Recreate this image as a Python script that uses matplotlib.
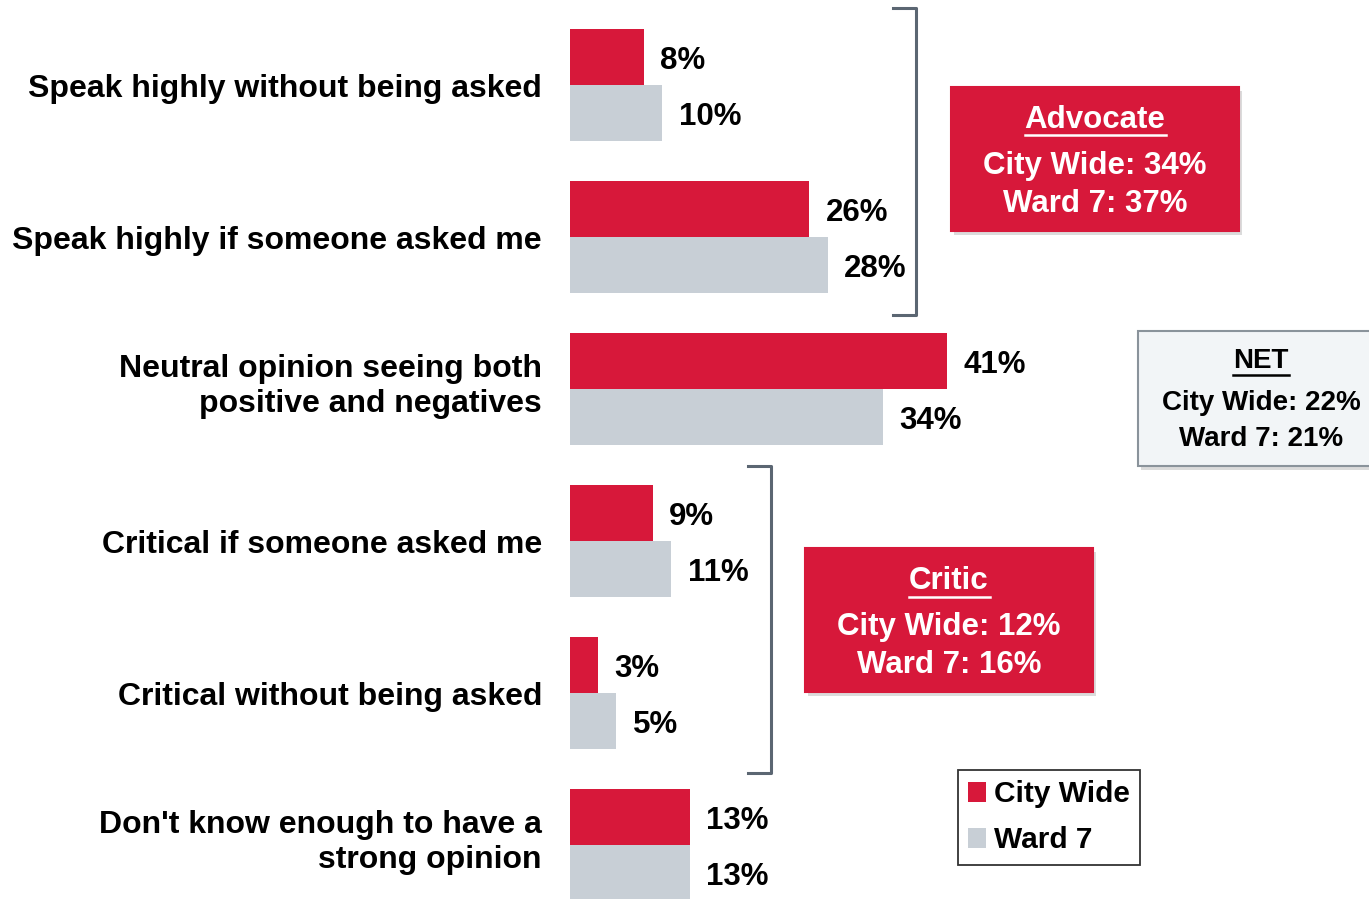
import matplotlib
matplotlib.use("Agg")
import matplotlib.pyplot as plt
import numpy as np
from matplotlib.patches import Rectangle, Patch
from matplotlib.lines import Line2D
from matplotlib.transforms import blended_transform_factory

plt.rcParams['font.family'] = ['Liberation Sans', 'DejaVu Sans']
plt.rcParams['font.weight'] = 'bold'

# data
categories = ["Speak highly without being asked",
              "Speak highly if someone asked me",
              "Neutral opinion seeing both\npositive and negatives",
              "Critical if someone asked me",
              "Critical without being asked",
              "Don't know enough to have a\nstrong opinion"]
city_wide = [8, 26, 41, 9, 3, 13]
ward7 = [10, 28, 34, 11, 5, 13]
series_names = ["City Wide", "Ward 7"]

advocate_lines = ["Advocate", "City Wide: 34%", "Ward 7: 37%"]
critic_lines = ["Critic", "City Wide: 12%", "Ward 7: 16%"]
net_lines = ["NET", "City Wide: 22%", "Ward 7: 21%"]

RED = "#d7183a"
GREY = "#c8cfd6"
BRACKET = "#5b6672"

W, H = 1369, 899
fig = plt.figure(figsize=(W / 100, H / 100), dpi=100)


def px(x, y):
    # pixel position -> figure fraction
    return x / W, 1 - y / H


ax = fig.add_axes([570 / W, 0, (W - 570) / W, 1])
ax.set_xlim(0, (W - 570) / 9.2)
ax.set_ylim(5.352, -0.5625)

y = np.arange(len(categories))
bh = 56 / 152
ax.barh(y - bh / 2, city_wide, height=bh, color=RED, label=series_names[0])
ax.barh(y + bh / 2, ward7, height=bh, color=GREY, label=series_names[1])

for i in range(len(categories)):
    ax.text(city_wide[i] + 1.8, y[i] - bh / 2 + 0.02, f"{city_wide[i]}%", va="center",
            ha="left", fontsize=22.5, fontweight="bold")
    ax.text(ward7[i] + 1.8, y[i] + bh / 2 + 0.02, f"{ward7[i]}%", va="center",
            ha="left", fontsize=22.5, fontweight="bold")

# category labels (two-line ones sit a little above the group centre)
lab_tr = blended_transform_factory(ax.transAxes, ax.transData)
for i, c in enumerate(categories):
    shift = -0.02 if "\n" in c else 0.025
    ax.text(-28 / 799, y[i] + shift, c, transform=lab_tr, ha="right", va="center",
            fontsize=23, fontweight="bold", linespacing=1.18)

ax.set_yticks([])
ax.set_xticks([])
for s in ax.spines.values():
    s.set_visible(False)


# brackets
def bracket(x, y0, y1, arm):
    xs = [x - arm, x, x, x - arm]
    ys = [y0, y0, y1, y1]
    pts = [px(a, b) for a, b in zip(xs, ys)]
    fig.add_artist(Line2D([p[0] for p in pts], [p[1] for p in pts],
                          color=BRACKET, lw=2.2, solid_joinstyle="round"))


bracket(916, 8, 315, 23)
bracket(771, 466, 773, 23)


# summary boxes
def box(x0, y0, x1, y1, face, edge, lines, cx, ys, color, fs_title, fs, shadow=True):
    if shadow:
        sx, sy = px(x0 + 3, y1 + 4)
        fig.add_artist(Rectangle((sx, sy), (x1 - x0) / W, (y1 - y0) / H,
                                 transform=fig.transFigure, facecolor="#888888",
                                 alpha=0.3, edgecolor="none", zorder=1))
    bx, by = px(x0, y1)
    fig.add_artist(Rectangle((bx, by), (x1 - x0) / W, (y1 - y0) / H,
                             transform=fig.transFigure, facecolor=face,
                             edgecolor=edge, lw=1.5, zorder=2))
    for k, (t, yy) in enumerate(zip(lines, ys)):
        tx, ty = px(cx, yy)
        fig.text(tx, ty, t, ha="center", va="center", color=color,
                 fontsize=fs_title if k == 0 else fs, fontweight="bold",
                 zorder=3)


def underline(x0, x1, yy, color):
    a = px(x0, yy)
    b = px(x1, yy)
    fig.add_artist(Line2D([a[0], b[0]], [a[1], b[1]], color=color, lw=1.8, zorder=4))


box(951, 87, 1239, 231, RED, RED, advocate_lines, 1095, [120, 166, 204], "white", 22.5, 22.5)
underline(1025, 1166, 135, "white")
box(805, 548, 1093, 692, RED, RED, critic_lines, 949, [581, 627, 665], "white", 22.5, 22.5)
underline(909, 990, 597, "white")
box(1138, 331, 1380, 466, "#f2f5f7", "#8a939b", net_lines, 1261, [361, 403, 439], "black", 20, 20)
underline(1233, 1289, 375, "black")

# legend
handles = [Patch(facecolor=RED, label=series_names[0]),
           Patch(facecolor=GREY, label=series_names[1])]
leg = fig.legend(handles=handles, loc="upper left", bbox_to_anchor=px(958, 770),
                 bbox_transform=fig.transFigure, fancybox=False, edgecolor="black",
                 prop={"size": 21.5, "weight": "bold"}, handlelength=0.6,
                 handleheight=0.65, handletextpad=0.25, borderpad=0.35,
                 labelspacing=0.6, borderaxespad=0)
leg.get_frame().set_linewidth(1.3)

fig.savefig("out.png", dpi=100)
